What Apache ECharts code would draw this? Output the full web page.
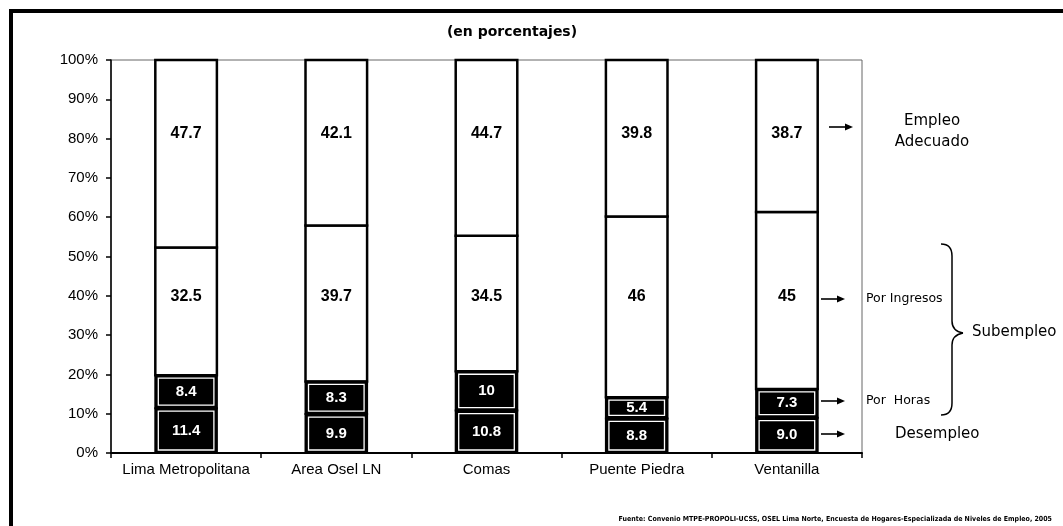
<!DOCTYPE html>
<html>
<head>
<meta charset="utf-8">
<script src="https://cdn.jsdelivr.net/npm/echarts@6/dist/echarts.min.js"></script>
<style>
html,body{margin:0;padding:0;background:#fff;}
#chart{width:1063px;height:526px;}
</style>
</head>
<body>
<div id="chart"></div>
<script>
const categories = ['Lima Metropolitana', 'Area Osel LN', 'Comas', 'Puente Piedra', 'Ventanilla'];
const desempleo = [11.4, 9.9, 10.8, 8.8, 9.0];
const porHoras = [8.4, 8.3, 10, 5.4, 7.3];
const porIngresos = [32.5, 39.7, 34.5, 46, 45];
const empleoAdecuado = [47.7, 42.1, 44.7, 39.8, 38.7];
const labelsDesempleo = ['11.4', '9.9', '10.8', '8.8', '9.0'];
const labelsHoras = ['8.4', '8.3', '10', '5.4', '7.3'];
const labelsIngresos = ['32.5', '39.7', '34.5', '46', '45'];
const labelsAdecuado = ['47.7', '42.1', '44.7', '39.8', '38.7'];
const yTicks = [0, 10, 20, 30, 40, 50, 60, 70, 80, 90, 100];

const layerLabels = [labelsDesempleo, labelsHoras, labelsIngresos, labelsAdecuado];
const dark = [true, true, false, false];
// fixed label heights (in axis units) for the light segments, as in the source
const fixedLabelPos = [null, null, 39.7, 81.4];

const data = categories.map((c, i) => [i, desempleo[i], porHoras[i], porIngresos[i], empleoAdecuado[i]]);

const chart = echarts.init(document.getElementById('chart'), null, {renderer: 'canvas'});

function renderItem(params, api) {
  const i = api.value(0);
  const vals = [api.value(1), api.value(2), api.value(3), api.value(4)];
  const w = api.size([1, 0])[0] * 0.41;
  const cx = api.coord([i, 0])[0];
  const x0 = cx - w / 2;
  const lightEls = [], darkEls = [];
  let cum = 0;
  vals.forEach((v, k) => {
    const yb = api.coord([i, cum])[1];
    const yt = api.coord([i, cum + v])[1];
    const h = yb - yt;
    const label = layerLabels[k][i];
    if (dark[k]) {
      darkEls.push({type: 'rect', shape: {x: x0, y: yt, width: w, height: h},
        style: {fill: '#000', stroke: '#000', lineWidth: 2}});
      darkEls.push({type: 'rect', shape: {x: x0 + 3, y: yt + 3, width: w - 6, height: h - 6},
        style: {fill: null, stroke: '#fff', lineWidth: 1.3}});
      darkEls.push({type: 'text', x: cx, y: (yt + yb) / 2,
        style: {text: label, fill: '#fff', font: 'bold 15px "Liberation Sans", Arial, sans-serif',
          textAlign: 'center', textVerticalAlign: 'middle'}});
    } else {
      lightEls.push({type: 'rect', shape: {x: x0, y: yt, width: w, height: h},
        style: {fill: '#fff', stroke: '#000', lineWidth: 2.5}});
      const ly = api.coord([i, fixedLabelPos[k]])[1];
      lightEls.push({type: 'text', x: cx, y: ly,
        style: {text: label, fill: '#000', font: 'bold 16px "Liberation Sans", Arial, sans-serif',
          textAlign: 'center', textVerticalAlign: 'middle'}});
    }
    cum += v;
  });
  return {type: 'group', children: lightEls.concat(darkEls)};
}

function arrow(x1, x2, y) {
  return [
    {type: 'line', shape: {x1: x1, y1: y, x2: x2 - 6, y2: y}, style: {stroke: '#000', lineWidth: 1.6}},
    {type: 'polygon', shape: {points: [[x2, y], [x2 - 8, y - 3.5], [x2 - 8, y + 3.5]]}, style: {fill: '#000'}}
  ];
}

const annoFont = '"DejaVu Sans", Tahoma, Verdana, sans-serif';
const braceStyle = {stroke: '#000', lineWidth: 1.5, fill: null};

const graphics = [
  // outer frame (top and left edges)
  {type: 'line', shape: {x1: 9, y1: 11, x2: 1063, y2: 11}, style: {stroke: '#000', lineWidth: 4}},
  {type: 'line', shape: {x1: 11, y1: 9, x2: 11, y2: 526}, style: {stroke: '#000', lineWidth: 4}},
  {type: 'text', x: 512, y: 32, style: {text: '(en porcentajes)', font: 'bold 14px ' + annoFont,
    fill: '#000', textAlign: 'center', textVerticalAlign: 'middle'}},
  {type: 'text', x: 932, y: 121, style: {text: 'Empleo', font: '15px ' + annoFont, fill: '#000', textAlign: 'center', textVerticalAlign: 'middle'}},
  {type: 'text', x: 932, y: 142, style: {text: 'Adecuado', font: '15px ' + annoFont, fill: '#000', textAlign: 'center', textVerticalAlign: 'middle'}},
  {type: 'text', x: 866, y: 299, style: {text: 'Por Ingresos', font: '12.5px ' + annoFont, fill: '#000', textAlign: 'left', textVerticalAlign: 'middle'}},
  {type: 'text', x: 866, y: 401, style: {text: 'Por  Horas', font: '12.5px ' + annoFont, fill: '#000', textAlign: 'left', textVerticalAlign: 'middle'}},
  {type: 'text', x: 895, y: 434, style: {text: 'Desempleo', font: '15px ' + annoFont, fill: '#000', textAlign: 'left', textVerticalAlign: 'middle'}},
  {type: 'text', x: 972, y: 332, style: {text: 'Subempleo', font: '15px ' + annoFont, fill: '#000', textAlign: 'left', textVerticalAlign: 'middle'}},
  // brace
  {type: 'bezierCurve', shape: {x1: 941, y1: 244, cpx1: 952, cpy1: 244, x2: 952, y2: 256}, style: braceStyle},
  {type: 'line', shape: {x1: 952, y1: 256, x2: 952, y2: 321}, style: braceStyle},
  {type: 'bezierCurve', shape: {x1: 952, y1: 321, cpx1: 952, cpy1: 331, x2: 963, y2: 333}, style: braceStyle},
  {type: 'bezierCurve', shape: {x1: 963, y1: 333, cpx1: 952, cpy1: 335, x2: 952, y2: 345}, style: braceStyle},
  {type: 'line', shape: {x1: 952, y1: 345, x2: 952, y2: 403}, style: braceStyle},
  {type: 'bezierCurve', shape: {x1: 952, y1: 403, cpx1: 952, cpy1: 415, x2: 941, y2: 415}, style: braceStyle},
  {type: 'text', x: 1052, y: 519, style: {text: 'Fuente: Convenio MTPE-PROPOLI-UCSS, OSEL Lima Norte, Encuesta de Hogares-Especializada de Niveles de Empleo, 2005',
    font: 'bold 7px "Liberation Sans Narrow", "DejaVu Sans Condensed", sans-serif', fill: '#000', textAlign: 'right', textVerticalAlign: 'middle'}}
].concat(arrow(829, 853, 127), arrow(821, 845, 299), arrow(821, 845, 401), arrow(821, 845, 434));

chart.setOption({
  animation: false,
  backgroundColor: '#fff',
  grid: {left: 111, right: 201, top: 60, bottom: 73, show: true, borderColor: '#666', borderWidth: 1, backgroundColor: 'transparent'},
  xAxis: {
    type: 'category', data: categories, boundaryGap: true,
    axisLine: {lineStyle: {color: '#000', width: 2}},
    axisTick: {show: true, interval: 0, alignWithLabel: false, length: 5, lineStyle: {color: '#000', width: 1.5}},
    axisLabel: {interval: 0, color: '#000', fontSize: 15, fontFamily: '"Liberation Sans", Arial, sans-serif', margin: 9}
  },
  yAxis: {
    type: 'value', min: 0, max: 100, interval: 10,
    axisLine: {show: true, lineStyle: {color: '#000', width: 1.5}},
    axisTick: {show: true, length: 5, lineStyle: {color: '#000', width: 1.5}},
    splitLine: {show: false},
    axisLabel: {color: '#000', fontSize: 15, fontFamily: '"Liberation Sans", Arial, sans-serif', margin: 13,
      formatter: v => v + '%'}
  },
  series: [{
    type: 'custom',
    renderItem: renderItem,
    data: data,
    encode: {x: 0, y: [1, 2, 3, 4]},
    clip: false
  }],
  graphic: graphics
});
</script>
</body>
</html>
